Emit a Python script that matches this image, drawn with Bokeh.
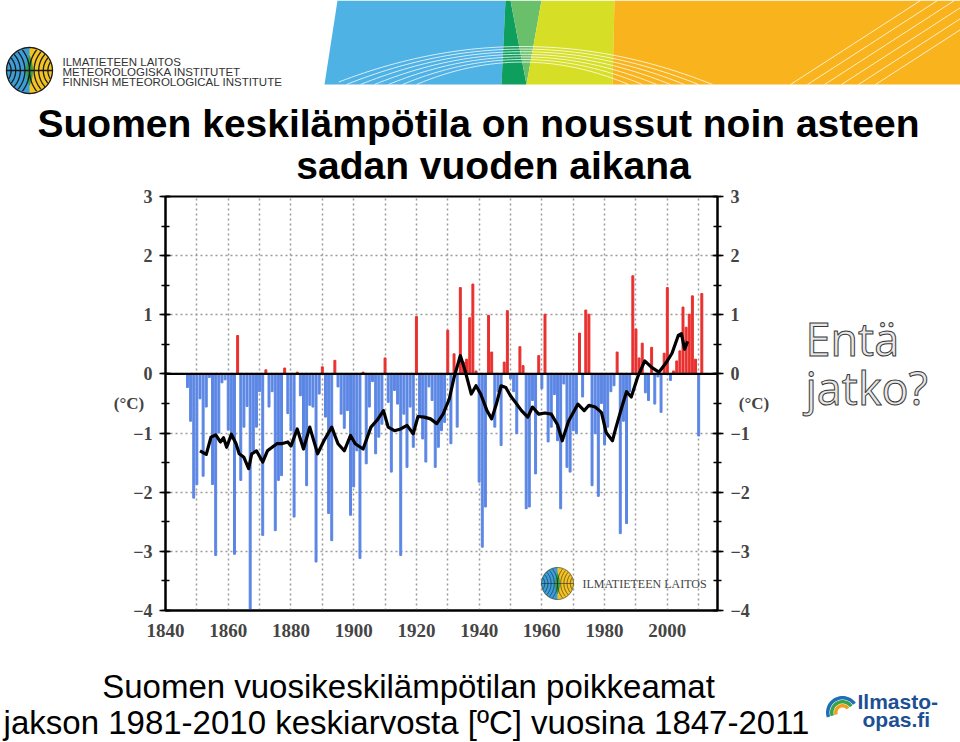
import math
from bokeh.plotting import figure
from bokeh.layouts import column, row
from bokeh.models import (ColumnDataSource, Label, PolyAnnotation, LinearAxis,
                          SingleIntervalTicker, FixedTicker, Range1d, Span)
from bokeh.core.properties import value
from bokeh.embed import file_html
from bokeh.resources import INLINE

# ---------------- data ----------------
years = list(range(1847, 2012))
anomaly = [
    -0.23, -0.80, -2.10, -1.87, -0.42, -1.73, -0.56, -0.06, -1.87, -3.07,   # 1847-1856
    -1.00, -0.15, -0.10, -0.95, -1.10, -3.05, 0.65, -1.80, -0.90, -0.55,    # 1857-1866
    -3.98, -1.30, -0.90, -0.30, -2.73, 0.07, -0.56, -0.30, -2.65, -1.80,    # 1867-1876
    -1.72, 0.10, -0.67, -0.96, -2.42, 0.03, -0.37, -1.24, -1.89, -0.53,     # 1877-1886
    -0.56, -3.18, -0.34, 0.12, -0.73, -2.36, -2.82, 0.23, -0.22, -0.68,     # 1887-1896
    -0.92, -0.62, -2.39, -1.91, -1.30, -3.12, 0.03, -1.52, -0.56, -0.13,    # 1897-1906
    -1.35, -1.07, -0.85, 0.27, -0.48, -1.66, -0.28, -0.51, -3.07, -0.68,    # 1907-1916
    -1.58, -0.56, -1.24, 0.97, -0.73, -1.10, -1.49, -0.22, -0.45, -1.58,    # 1917-1926
    -1.24, -0.96, -0.82, 0.74, -1.18, 0.34, -0.90, 1.46, 0.20, 0.25,        # 1927-1936
    0.95, 1.52, 0.05, -1.83, -2.93, -2.25, 0.99, 0.37, -0.90, -0.30,        # 1937-1946
    -1.21, 0.20, 1.07, -0.08, -0.30, -1.01, 0.46, 0.14, -2.28, -2.25,       # 1947-1956
    -0.45, -1.69, 0.31, -0.25, 1.01, -1.15, -0.90, -0.35, -1.13, -2.28,     # 1957-1966
    -0.17, -1.58, -1.66, -0.96, -1.01, 0.69, -0.39, 1.08, 1.01, -1.89,      # 1967-1976
    -1.01, -2.07, -0.50, -1.20, -0.90, -0.30, -0.20, 0.37, -2.70, -0.80,    # 1977-1986
    -2.53, -0.30, 1.66, 0.76, 0.27, 0.52, -0.32, -0.45, 0.45, -0.51,        # 1987-1996
    -0.05, -0.65, 0.35, 1.46, -0.11, 0.05, 0.22, 0.39, 1.13, 0.79,          # 1997-2006
    1.01, 1.32, 0.25, -1.05, 1.36,                                          # 2007-2011
]
smooth_years = [
    1851, 1853, 1854.5, 1856, 1857.5, 1858.5, 1859.5, 1861, 1862.5, 1863.5,
    1865, 1866.5, 1867.5, 1869, 1871, 1872.5, 1874, 1875.5, 1877, 1879,
    1880, 1882, 1884, 1886, 1888.5, 1890.5, 1893, 1895, 1897, 1899,
    1900.5, 1903, 1905.5, 1907.5, 1909.5, 1911, 1913, 1915, 1917, 1919,
    1920.5, 1922.5, 1924.5, 1926.5, 1928.5, 1930.5, 1932, 1934, 1935.5, 1937.5,
    1939, 1940.5, 1942.5, 1944, 1945.5, 1947, 1948.5, 1950, 1952, 1953.5,
    1955.5, 1957, 1959, 1961, 1963, 1965, 1966.5, 1968.5, 1971.5, 1973.5,
    1975, 1977, 1979, 1980.5, 1982.5, 1983.5, 1985.5, 1987, 1988.5, 1990.5,
    1992.8, 1995, 1997.3, 1999.5, 2001.5, 2003.5, 2004.5, 2005.5, 2006.5,
]
smooth_values = [
    -1.30, -1.36, -1.07, -1.03, -1.15, -1.08, -1.24, -1.02, -1.18, -1.35,
    -1.41, -1.60, -1.35, -1.30, -1.49, -1.30, -1.24, -1.18, -1.18, -1.15,
    -1.22, -0.93, -1.27, -0.90, -1.35, -1.13, -0.90, -1.18, -1.30, -1.04,
    -1.18, -1.27, -0.90, -0.78, -0.62, -0.90, -0.96, -0.93, -0.87, -1.01,
    -0.72, -0.73, -0.76, -0.84, -0.68, -0.42, -0.06, 0.31, 0.06, -0.34,
    -0.20, -0.34, -0.62, -0.76, -0.51, -0.20, -0.23, -0.37, -0.51, -0.62,
    -0.73, -0.56, -0.68, -0.66, -0.68, -0.86, -1.13, -0.80, -0.51, -0.62,
    -0.53, -0.56, -0.65, -0.99, -1.13, -0.93, -0.56, -0.30, -0.39, -0.06,
    0.22, 0.11, 0.03, 0.18, 0.35, 0.65, 0.68, 0.42, 0.55,
]
x_tick_labels = [1840, 1860, 1880, 1900, 1920, 1940, 1960, 1980, 2000]
x_grid_years = [1850, 1860, 1870, 1880, 1890, 1900, 1910, 1920, 1930, 1940,
                1950, 1960, 1970, 1980, 1990, 2000, 2010]
y_ticks = [-4, -3, -2, -1, 0, 1, 2, 3]

title_lines = ["Suomen keskilämpötila on noussut noin asteen", "sadan vuoden aikana"]
caption_lines = ["Suomen vuosikeskilämpötilan poikkeamat",
                 "jakson 1981-2010 keskiarvosta [ºC] vuosina 1847-2011"]
fmi_lines = ["ILMATIETEEN LAITOS", "METEOROLOGISKA INSTITUTET", "FINNISH METEOROLOGICAL INSTITUTE"]
side_lines = ["Entä", "jatko?"]

# ---------------- page geometry (page pixels) ----------------
PW, PH = 960, 742
HDR_H = 188          # header band
MID_H = 462          # chart band
BOT_H = PH - HDR_H - MID_H
CH_W = 790           # chart figure width
FL, FR, FT, FB = 165, 717, 196, 610   # chart frame in page pixels
X0, X1 = 1840, 2016
Y0, Y1 = -4, 3


def dx(X):
    return X0 + (X - FL) * (X1 - X0) / (FR - FL)


def dy(Y):
    return Y1 - (Y - FT) * (Y1 - Y0) / (FB - FT)


def blank(width, height, xr, yr):
    f = figure(width=width, height=height, x_range=Range1d(*xr), y_range=Range1d(*yr),
               output_backend="svg", toolbar_location=None,
               x_axis_location=None, y_axis_location=None, min_border=0)
    f.grid.visible = False
    f.outline_line_color = None
    f.background_fill_color = "white"
    f.border_fill_color = "white"
    return f


def circ(cx, cy, r, n=60, a0=0.0, a1=2 * math.pi):
    return ([cx + r * math.cos(a0 + (a1 - a0) * i / n) for i in range(n + 1)],
            [cy + r * math.sin(a0 + (a1 - a0) * i / n) for i in range(n + 1)])


def txt(f, x, y, s, size, font="Liberation Sans", style="normal", color="black",
        align="left", **kw):
    f.text(x=[x], y=[y], text=[s], text_font=value(font), text_font_style=style,
           text_font_size=value(size), text_color=color, text_align=align,
           text_baseline="middle", **kw)


def emblem_shapes(cx, cy, r):
    """FMI emblem in page-pixel geometry: list of fills and list of polylines."""
    fills, lines = [], []
    xs, ys = circ(cx, cy, r)
    fills.append((xs, ys, "#f3c224"))
    xs, ys = circ(cx, cy, r, 40, math.pi / 2, 3 * math.pi / 2)
    fills.append((xs, ys, "#3b9ed9"))
    R, d = 1.6 * r, 1.45 * r
    th = math.acos(d / R)
    ax_, ay_ = circ(cx - d, cy, R, 30, -th, th)
    bx_, by_ = circ(cx + d, cy, R, 30, math.pi - th, math.pi + th)
    fills.append((ax_ + bx_, ay_ + by_, "#34a04a"))
    for side in (-1, 1):
        c = cx + side * 1.45 * r
        base = 0.0 if side < 0 else math.pi
        for k in (0.65, 0.85, 1.05, 1.25, 1.45):
            lx, ly = [], []
            for i in range(81):
                a = base - math.pi / 2 + math.pi * i / 80
                px, py = c + k * r * math.cos(a), cy + k * r * math.sin(a)
                if (px - cx) ** 2 + (py - cy) ** 2 <= r * r:
                    lx.append(px)
                    ly.append(py)
            if lx:
                lines.append((lx, ly))
    lines.append(circ(cx, cy, r))
    lines.append(([cx - r, cx + r], [cy, cy]))
    return fills, lines


# ================= header =================
hdr = blank(PW, HDR_H, (0, PW), (HDR_H, 0))
band_xs = [[337, 505, 501, 324], [505, 510, 526, 501], [510, 541, 526],
           [541, 614, 612, 526], [614, 960, 960, 612]]
band_ys = [[0, 0, 84, 84], [0, 0, 84, 84], [0, 0, 84], [0, 0, 84, 84], [0, 0, 84, 84]]
band_cols = ["#4fb2e5", "#0e9e5e", "#6abf6a", "#d6df26", "#f8b31d"]
hdr.patches(band_xs, band_ys, fill_color=band_cols, line_color=None)
arc_xs, arc_ys = [], []
for i in range(7):
    peak = 46 + 2.6 * i
    hw = 190 - 14 * i
    xs, ys = [], []
    for j in range(61):
        x = 522 - hw + 2 * hw * j / 60
        if x > 332:
            xs.append(x)
            ys.append(peak + (84 - peak) * ((x - 522) / hw) ** 2)
    arc_xs.append(xs)
    arc_ys.append(ys)
for i in range(6):
    arc_xs.append([790 + 17 * i, 852 + 17 * i, 920 + 17 * i])
    arc_ys.append([84, 44, 0])
hdr.multi_line(arc_xs, arc_ys, line_color="white", line_width=0.9, line_alpha=0.85)

fills, lines = emblem_shapes(29, 70, 23)
for xs, ys, col in fills:
    hdr.patch(xs, ys, fill_color=col, line_color=None)
for xs, ys in lines:
    hdr.line(xs, ys, line_color="#1a1a1a", line_width=1.3)
for k, s in enumerate(fmi_lines):
    txt(hdr, 62, 61.5 + 9.8 * k, s, "11.5px", color="#333333")
txt(hdr, 478, 123, title_lines[0], "39px", style="bold", align="center")
txt(hdr, 493, 165, title_lines[1], "39px", style="bold", align="center")

# ================= chart =================
p = figure(width=CH_W, height=MID_H, x_range=Range1d(X0, X1), y_range=Range1d(Y0, Y1),
           output_backend="svg", toolbar_location=None,
           min_border_left=FL, min_border_right=CH_W - FR,
           min_border_top=FT - HDR_H, min_border_bottom=HDR_H + MID_H - FB)
p.background_fill_color = "white"
p.border_fill_color = "white"
p.outline_line_color = "black"
p.outline_line_width = 2

tick_font = "Liberation Serif"
right_axis = LinearAxis()
p.add_layout(right_axis, "right")
for ax in (p.yaxis[0], right_axis):
    ax.ticker = SingleIntervalTicker(interval=1, num_minor_ticks=2)
    ax.major_tick_in = 5
    ax.major_tick_out = 6
    ax.minor_tick_in = 4
    ax.minor_tick_out = 4
    ax.major_tick_line_width = 1.5
    ax.minor_tick_line_width = 1.5
    ax.axis_line_width = 2
    ax.major_label_text_font = tick_font
    ax.major_label_text_font_style = "bold"
    ax.major_label_text_font_size = "18px"
    ax.major_label_standoff = 7
    ax.axis_label = "(°C)"
    ax.axis_label_orientation = "horizontal"
    ax.axis_label_text_font = tick_font
    ax.axis_label_text_font_style = "bold"
    ax.axis_label_text_font_size = "17px"
    ax.axis_label_standoff = -14

xa = p.xaxis[0]
xa.ticker = FixedTicker(ticks=x_tick_labels)
xa.major_tick_in = 0
xa.major_tick_out = 0
xa.minor_tick_in = 0
xa.minor_tick_out = 0
xa.axis_line_width = 2
xa.major_label_text_font = tick_font
xa.major_label_text_font_style = "bold"
xa.major_label_text_font_size = "19px"
xa.major_label_standoff = 13

p.xgrid.ticker = FixedTicker(ticks=x_grid_years)
p.ygrid.ticker = FixedTicker(ticks=y_ticks)
for g in (p.xgrid, p.ygrid):
    g.grid_line_color = "#9a9a9a"
    g.grid_line_dash = "2 3"
    g.grid_line_width = 1.5

colors = ["#e8302e" if v > 0 else "#5b86e4" for v in anomaly]
src = ColumnDataSource(dict(x=years, top=anomaly, color=colors))
p.vbar(x="x", top="top", bottom=0, width=0.62, color="color", source=src)
p.add_layout(Span(location=0, dimension="width", line_color="black", line_width=2.2))
p.line(smooth_years, smooth_values, line_color="black", line_width=3.2, line_join="round")

# watermark logo inside the chart (page-pixel geometry converted to data units)
fills, lines = emblem_shapes(557, 583, 16)
for xs, ys, col in fills:
    p.add_layout(PolyAnnotation(xs=[dx(a) for a in xs], ys=[dy(b) for b in ys],
                                fill_color=col, fill_alpha=1, line_alpha=0))
for xs, ys in lines:
    xx = xs + xs[::-1]
    yy = ys + ys[::-1]
    p.add_layout(PolyAnnotation(xs=[dx(a) for a in xx], ys=[dy(b) for b in yy],
                                fill_alpha=0, line_color="#1a1a1a", line_width=1.0))
p.add_layout(Label(x=dx(582), y=dy(583), text=fmi_lines[0], text_font="Liberation Serif",
                   text_font_size="12px", text_color="#444444", text_baseline="middle"))

# ================= right side =================
side = blank(PW - CH_W, MID_H, (CH_W, PW), (HDR_H + MID_H, HDR_H))
txt(side, 805, 346, side_lines[0], "45px", font="Open Sans", color="#e8e8e8",
    text_outline_color="#3a3a3a")
txt(side, 805, 401, side_lines[1], "45px", font="Open Sans", color="#e8e8e8",
    text_outline_color="#3a3a3a")

# ================= bottom =================
bot = blank(PW, BOT_H, (0, PW), (PH, HDR_H + MID_H))
txt(bot, 408, 686, caption_lines[0], "33px", align="center")
txt(bot, 406, 722, caption_lines[1], "33px", align="center")
for k, col in enumerate(["#1f6fb8", "#3aa34a", "#f0a020"]):
    r0, r1 = 13 - 4 * k, 16.5 - 4 * k
    ox, oy = circ(842, 712, r1, 30, math.pi * 0.9, math.pi * 1.8)
    ix, iy = circ(842, 712, r0, 30, math.pi * 1.8, math.pi * 0.9)
    bot.patch(ox + ix, oy + iy, fill_color=col, line_color=None)
txt(bot, 857, 701, "Ilmasto-", "21px", style="bold", color="#1c4f93")
txt(bot, 862, 719, "opas.fi", "21px", style="bold", color="#1c4f93")

layout = column(hdr, row(p, side), bot)
open("out.html", "w").write(file_html(layout, INLINE))
